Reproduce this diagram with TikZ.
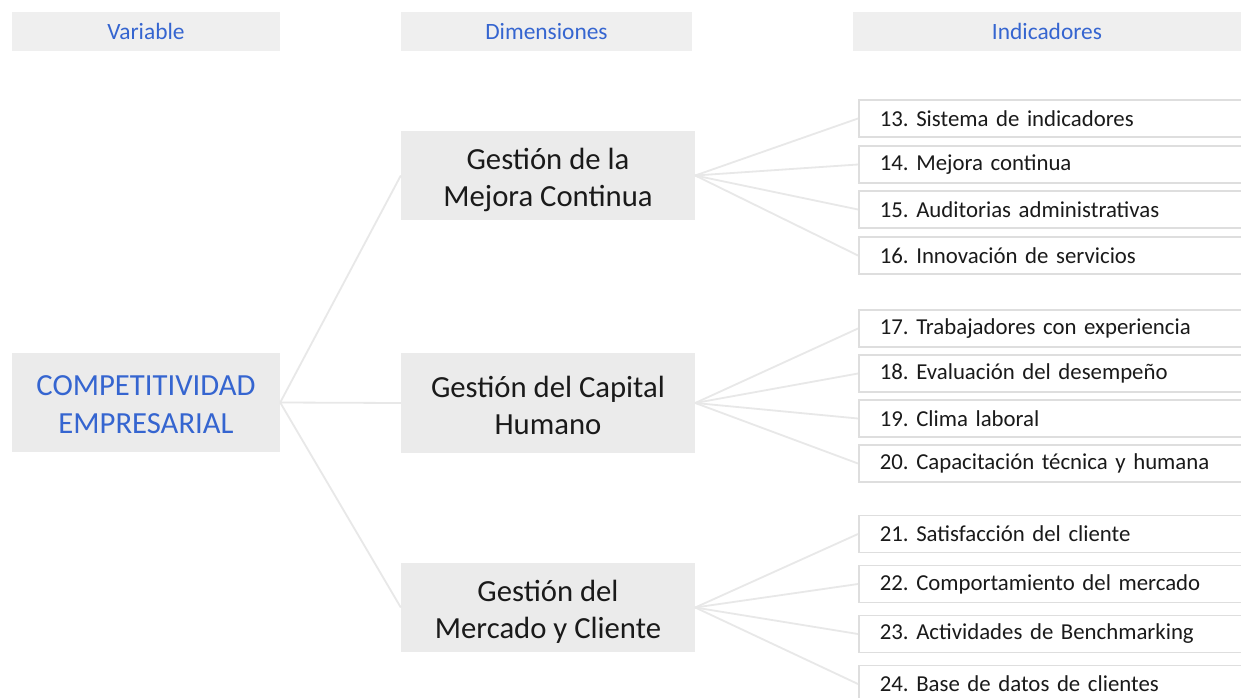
\documentclass[tikz,border=0pt]{standalone}
\usepackage{fontspec}
\setmainfont{Carlito}
\frenchspacing
\definecolor{hdrfill}{HTML}{EFEFEF}
\definecolor{boxfill}{HTML}{EBEBEB}
\definecolor{bluetxt}{HTML}{3565D0}
\definecolor{txt}{HTML}{1A1A1A}
\definecolor{linec}{HTML}{E8E8E8}
\definecolor{indborder}{HTML}{DEDEDE}
\begin{document}
\begin{tikzpicture}[x=1pt,y=-1pt,
  hdr/.style={fill=hdrfill, draw=none, inner sep=0pt, text=bluetxt,
    font=\fontsize{23.4}{26}\selectfont, minimum height=39pt},
  dimbox/.style={fill=boxfill, draw=none, inner sep=0pt, minimum width=294pt},
  dimtext/.style={inner sep=0pt, text=txt, align=center,
    font=\fontsize{30.7}{37}\selectfont},
  varbox/.style={fill=boxfill, draw=none, inner sep=0pt, minimum width=268pt, minimum height=99pt},
  vartext/.style={inner sep=0pt, text=bluetxt, align=center,
    font=\fontsize{30.7}{38}\selectfont},
  indbox/.style={fill=white, draw=indborder, line width=1.6pt, anchor=west,
    inner xsep=21pt, inner ysep=0pt, text width=344pt, align=left,
    minimum height=37pt, text=txt, font=\fontsize{22.8}{26}\selectfont},
  conn/.style={draw=linec, line width=1.8pt}]
\clip (0,0) rectangle (1241,698);
\fill[white] (0,0) rectangle (1241,698);

% headers
\node[hdr, minimum width=268pt] (hv) at (146,31.5) {Variable};
\node[hdr, minimum width=291pt] (hd) at (546.5,31.5) {Dimensiones};
\node[hdr, minimum width=388pt] (hi) at (1047,31.5) {Indicadores};

% variable
\node[varbox] (v) at (146,402.5) {};
\node[vartext] (vt) at ([yshift=-2pt]v.center) {COMPETITIVIDAD\\EMPRESARIAL};

% dimensions
\node[dimbox, minimum height=89pt] (d1) at (548,175.5) {};
\node[dimtext] (d1t) at ([yshift=-4pt]d1.center) {Gestión de la\\Mejora Continua};
\node[dimbox, minimum height=100pt] (d2) at (548,403) {};
\node[dimtext] (d2t) at ([yshift=-2pt]d2.center) {Gestión del Capital\\Humano};
\node[dimbox, minimum height=89pt] (d3) at (548,607.5) {};
\node[dimtext] (d3t) at ([yshift=-4pt]d3.center) {Gestión del\\Mercado y Cliente};

% indicators
\node[indbox] (i13) at (858,118.5) {13. Sistema de indicadores};
\node[indbox] (i14) at (858,164.5) {14. Mejora continua};
\node[indbox] (i15) at (858,209.5) {15. Auditorias administrativas};
\node[indbox] (i16) at (858,255.5) {16. Innovación de servicios};
\node[indbox] (i17) at (858,328.5) {17. Trabajadores con experiencia};
\node[indbox] (i18) at (858,373.5) {18. Evaluación del desempeño};
\node[indbox] (i19) at (858,418.5) {19. Clima laboral};
\node[indbox] (i20) at (858,463.5) {20. Capacitación técnica y humana};
\node[indbox] (i21) at (858,534) {21. Satisfacción del cliente};
\node[indbox] (i22) at (858,584) {22. Comportamiento del mercado};
\node[indbox] (i23) at (858,634) {23. Actividades de Benchmarking};
\node[indbox] (i24) at (858,684) {24. Base de datos de clientes};

% connectors
\draw[conn] (v.east) -- (d1.west);
\draw[conn] (v.east) -- (d2.west);
\draw[conn] (v.east) -- (d3.west);
\foreach \i in {13,14,15,16} \draw[conn] (d1.east) -- (i\i.west);
\foreach \i in {17,18,19,20} \draw[conn] (d2.east) -- (i\i.west);
\foreach \i in {21,22,23,24} \draw[conn] (d3.east) -- (i\i.west);
\end{tikzpicture}
\end{document}
